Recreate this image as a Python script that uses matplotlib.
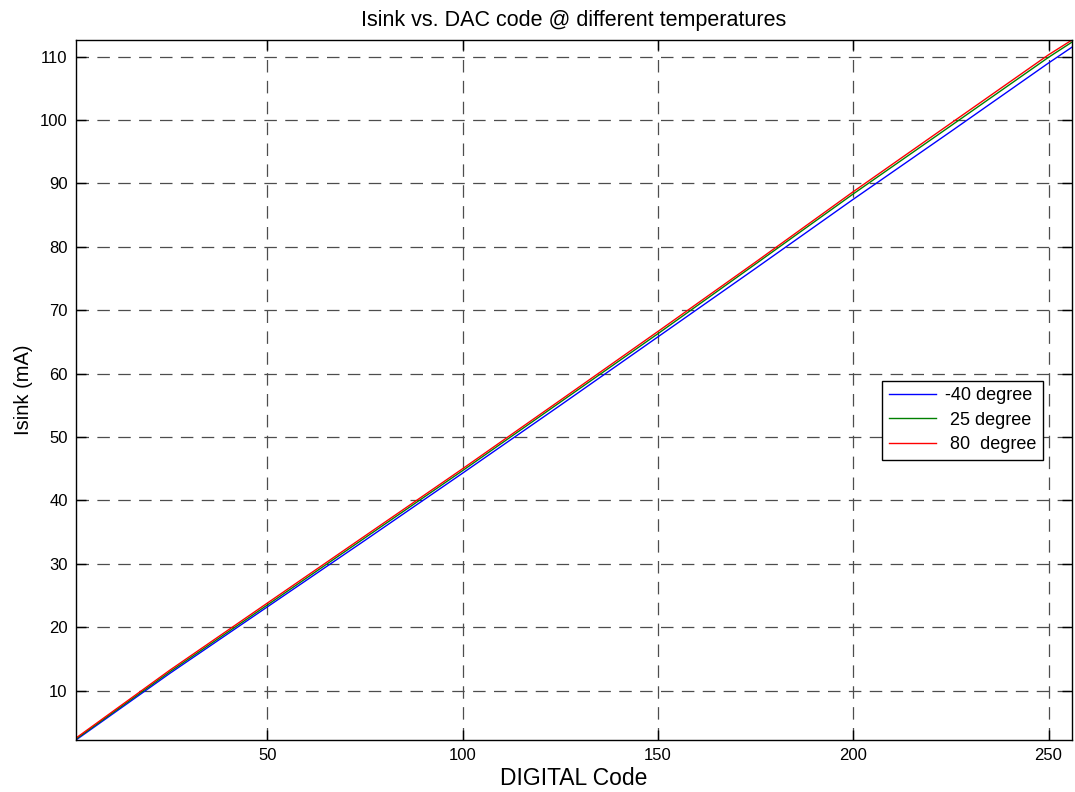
import matplotlib
matplotlib.use("Agg")
import matplotlib.pyplot as plt

plt.rcParams['font.family'] = ['Liberation Sans', 'DejaVu Sans']

codes = [1, 25, 50, 75, 100, 125, 150, 175, 200, 225, 250, 256]
isink_m40 = [2.2, 12.7, 23.2, 33.7, 44.3, 55.0, 65.8, 76.6, 87.5, 98.2, 109.0, 111.5]
isink_25 = [2.35, 12.95, 23.5, 34.1, 44.7, 55.5, 66.3, 77.3, 88.35, 99.1, 109.9, 112.3]
isink_80 = [2.5, 13.2, 23.8, 34.4, 45.0, 55.8, 66.65, 77.6, 88.7, 99.5, 110.3, 112.63]

series_labels = ['-40 degree', ' 25 degree', ' 80  degree']
xticks = [50, 100, 150, 200, 250]
yticks = [10, 20, 30, 40, 50, 60, 70, 80, 90, 100, 110]

fig = plt.figure(figsize=(10.75, 7.92), dpi=100)
ax = fig.add_axes([0.0707, 0.0657, 0.9265, 0.8838])

ax.plot(codes, isink_m40, color='#0000ff', lw=1.0, label=series_labels[0])
ax.plot(codes, isink_25, color='#008000', lw=1.0, label=series_labels[1])
ax.plot(codes, isink_80, color='#ff0000', lw=1.0, label=series_labels[2])

ymin = min(isink_m40 + isink_25 + isink_80)
ymax = max(isink_m40 + isink_25 + isink_80)
ax.set_xlim(codes[0], codes[-1])
ax.set_ylim(ymin, ymax)
ax.set_xticks(xticks)
ax.set_yticks(yticks)
ax.tick_params(direction='in', length=7, width=1, labelsize=12,
               top=True, right=True, pad=6)
ax.grid(True, color='0.3', linestyle=(0, (10, 6.7)), linewidth=0.9)
for s in ax.spines.values():
    s.set_linewidth(1.0)

ax.set_title('Isink vs. DAC code @ different temperatures', fontsize=15.5, pad=10)
ax.set_xlabel('DIGITAL Code', fontsize=16.5, labelpad=3)
ax.set_ylabel('Isink (mA)', fontsize=14.5, labelpad=5)

leg = ax.legend(loc='upper left', bbox_to_anchor=(0.8095, 0.513), fontsize=13,
                frameon=True, fancybox=False, edgecolor='black', framealpha=1,
                borderpad=0.35, handlelength=2.6, labelspacing=0.42,
                handletextpad=0.55, borderaxespad=0)
leg.get_frame().set_linewidth(1.0)

fig.savefig('out.png', dpi=100)
